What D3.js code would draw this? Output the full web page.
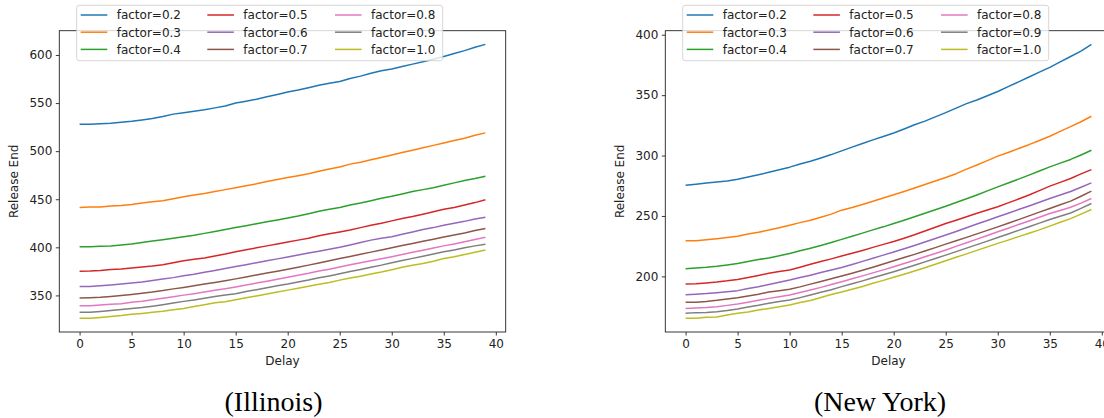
<!DOCTYPE html>
<html>
<head>
<meta charset="utf-8">
<script src="https://cdn.jsdelivr.net/npm/d3@7"></script>
<style>
  body { margin: 0; background: #fff; }
  svg { display: block; }
</style>
</head>
<body>
<div id="chart"></div>
<script>
// delay values on the x axis
const delays = d3.range(0, 40);
const factors = ['0.2', '0.3', '0.4', '0.5', '0.6', '0.7', '0.8', '0.9', '1.0'];
const colors = ['#1f77b4', '#ff7f0e', '#2ca02c', '#d62728', '#9467bd', '#8c564b', '#e377c2', '#7f7f7f', '#bcbd22'];
const xTicks = [0, 5, 10, 15, 20, 25, 30, 35, 40];
const yTicksIllinois = [350, 400, 450, 500, 550, 600];
const yTicksNewYork = [200, 250, 300, 350, 400];

// Illinois, one array per factor
const illinois02 = [528,528,528.5,529,530,531,532.5,534,536,538.5, 540,541.5,543,545,547,550,552,554,556.5,559, 561.5,563.5,566,568.5,570.5,572.5,575.5,578,581,583.5, 585.5,588,590.5,593,595.5,598.5,601.5,604.5,608,611];
const illinois03 = [441.5,442,442,443,443.5,444.5,446,447.5,448.5,450.5, 452.5,454.5,456,458,460,462,464,466,468.5,470.5, 472.5,474.5,476.5,479,481.5,483.5,486.5,488.5,491,493.5, 496,498.5,501,503.5,506,508.5,511,513.5,516.5,519];
const illinois04 = [400.5,400.5,401,401.5,402.5,403.5,405,406.5,408,409.5, 411,412.5,414.5,416.5,418.5,420.5,422.5,424.5,426.5,428.5, 430.5,432.5,435,437.5,439.5,441.5,444,446,448.5,451, 453,455.5,458,460,462,464.5,467,469.5,471.5,474];
const illinois05 = [375.2,375.3,376,377,377.5,378.5,379.5,380.5,382,384, 386,387.5,389,391,393,395.5,397.5,399.5,401.5,403.5, 405.5,407.5,409.5,412,414,416,418,420.5,423,425, 427.5,430,432,434.5,437,439.5,441.5,444,446.5,449.5];
const illinois06 = [359.3,359.3,360,360.8,361.8,362.8,364,365.5,367,368.5, 370.5,372,374,376,378,380,382,384,386,388, 390,392,394,396,398,400,402.5,405,407.5,409.5, 411,413.5,416,418.5,420.5,423,425,427,429.5,431.2];
const illinois07 = [347.2,347.5,348,348.8,349.8,351,352.3,353.5,355,356.8, 358.3,360,361.8,363.5,365.3,367.2,369.2,371.3,373.2,375.2, 377.2,379.3,381.5,383.8,386,388.3,390.5,392.8,395,397.3, 399.5,401.8,404,406.3,408.5,410.7,412.8,415,417.5,419.5];
const illinois08 = [339.3,339.3,340,340.8,341.3,343,344,345.5,347,348.5, 350.3,351.8,353.5,355.3,357,358.8,360.8,362.8,364.8,366.8, 368.8,371,373,375.3,377.3,379.5,381.8,384,386,388.2, 390.3,392.5,394.8,397,399.3,401.5,403.5,405.8,408.2,410.5];
const illinois09 = [332.4,332.5,333.3,334.2,335.3,336.5,337.5,338.8,340.3,342, 343.8,345.3,347,348.8,350.5,351.8,354,356,358,360, 361.8,364,366,368.3,370.3,372.5,374.8,377,379.3,381.5, 384,386.3,388.5,390.8,393,395.3,397.3,399.5,401.5,403.2];
const illinois10 = [326.2,326.2,327,328,329,330.3,331.3,332.5,333.5,335, 336.5,338.5,340.3,342.3,343.5,345.5,347.5,349.5,351.5,353.5, 355.5,357.5,359.5,361.5,363.5,365.9,368,370,372.3,374.3, 376.6,379.3,381.3,383.3,385.5,388.4,390.3,392.5,394.8,397.3];

// New York, one array per factor
const newYork02 = [275.5,276.3,277.2,278.1,279,280.4,282.2,284.1,286.1,288.2, 290.4,293,295.3,298,300.8,303.9,307,310,313,315.8, 318.7,322,325.5,328.5,332,335.5,339.3,343,346,349.5, 353,357,361,365,369,373,377.5,382,386.5,392];
const newYork03 = [229.5,229.5,230.3,231.2,232.2,233.3,235,236.5,238.3,240.3, 242.4,244.5,246.5,249,251.5,254.8,257,259.5,262.2,264.8, 267.5,270.3,273.2,276,279,281.8,285,288.8,292.2,295.8, 299.5,302.5,305.8,309,312.5,316,320,324,328,332.5];
const newYork04 = [206.3,207,207.5,208.3,209.5,210.7,212.3,214,215.3,217, 219,221.2,223.3,225.5,228,230.6,233.2,235.8,238.5,241, 243.8,246.5,249.3,252.2,255.2,258.1,261.2,264.2,267.4,270.8, 274.1,277.3,280.5,283.8,287.2,290.6,293.7,296.8,300.5,304.4];
const newYork05 = [193.7,193.8,194.5,195.3,196.3,197.5,199,200.8,202.5,204, 205.2,207.5,210,212.3,214.5,216.8,219.2,221.5,224,226.5, 228.9,231.6,234.5,237.5,240.6,243.8,246.5,249.3,252.3,255, 257.6,260.8,264,267.3,271,274.7,277.8,281,284.8,288.4];
const newYork06 = [184.8,185.3,185.8,186.5,187.3,188.2,190,191.5,193.3,195.2, 197,199,201,203.2,205.3,207.4,209.8,212.4,215,217.6, 220.1,222.8,225.6,228.4,231.3,234.2,237.2,240.3,243.3,246.3, 249.3,252.3,255.3,258.3,261.3,264.5,267.3,270.3,273.8,277.4];
const newYork07 = [178.5,178.6,179.3,180.2,181.3,182.4,183.8,185.3,187,188.2, 189.3,191.3,193.6,195.8,198,200.3,202.6,205,207.6,210.3, 212.9,215.6,218.2,221,223.8,226.7,229.5,232.3,235.2,238.1, 241,244,247,250.1,253.2,256.2,259.3,262.3,266.3,270.5];
const newYork08 = [173.5,173.8,174.2,174.9,176,177.1,178.6,180.2,181.8,183.2, 184.6,186.6,188.7,190.9,193.2,195.6,198,200.4,202.9,205.4, 208,210.7,213.4,216.2,219,221.8,224.8,227.8,230.8,233.8, 236.9,239.9,242.9,245.9,248.9,252,254.6,257.2,260.6,264.5];
const newYork09 = [169.4,170,170.2,170.8,171.8,173,174.6,176.1,177.8,179.2, 180.4,182.4,184.6,186.8,189,191.5,193.9,196.3,198.8,201.3, 203.9,206.5,209.2,212,214.8,217.6,220.5,223.4,226.3,229.2, 232.2,235.1,238.1,241.1,244.1,247.1,249.8,252.5,256.3,260.3];
const newYork10 = [165.3,165.3,166.2,166.3,168,169.4,170.6,172.2,173.5,174.8, 176.3,178.3,180,182.5,185,187,189.3,191.6,194.3,196.7, 199.2,201.8,204.5,207.1,210,212.9,215.8,218.6,221.5,224.4, 227.3,230,232.9,235.7,238.5,241.6,244.8,247.8,251.5,255.4];

const illinoisSeries = [illinois02, illinois03, illinois04, illinois05, illinois06, illinois07, illinois08, illinois09, illinois10];
const newYorkSeries = [newYork02, newYork03, newYork04, newYork05, newYork06, newYork07, newYork08, newYork09, newYork10];

const W = 1104, H = 418;
const svg = d3.select('#chart').append('svg')
    .attr('width', W)
    .attr('height', H);

const font = 'DejaVu Sans, sans-serif';
const fontSize = '12px';

// draws one panel, like a matplotlib subplot
function drawPanel(series, yTicks, left, caption, captionX) {
    const top = 30.7, bottom = 332, width = 446.4;

    // x scale with 5% margins
    const x = d3.scaleLinear()
        .domain([-1.95, 40.95])
        .range([left, left + width]);

    // y scale from data extent plus 5%
    const all = series.flat();
    const lo = d3.min(all), hi = d3.max(all);
    const pad = (hi - lo) * 0.05;
    const y = d3.scaleLinear()
        .domain([lo - pad, hi + pad])
        .range([bottom, top]);

    const g = svg.append('g');

    // Add X axis
    const xAxis = g.append('g')
        .attr('transform', `translate(0,${bottom})`)
        .call(d3.axisBottom(x).tickValues(xTicks).tickSize(3.5).tickPadding(3.5).tickFormat(d3.format('d')));
    // Add Y axis
    const yAxis = g.append('g')
        .attr('transform', `translate(${left},0)`)
        .call(d3.axisLeft(y).tickValues(yTicks).tickSize(3.5).tickPadding(3.5).tickFormat(d3.format('d')));
    [xAxis, yAxis].forEach(a => {
        a.select('.domain').remove();
        a.selectAll('line').attr('stroke', '#222').attr('stroke-width', 0.9);
        a.selectAll('text').attr('fill', '#222').style('font-family', font).style('font-size', fontSize);
    });

    // Add the lines
    const line = d3.line()
        .x((d, i) => x(delays[i]))
        .y(d => y(d));
    series.forEach((s, i) => {
        g.append('path')
            .datum(s)
            .attr('fill', 'none')
            .attr('stroke', colors[i])
            .attr('stroke-width', 1.5)
            .attr('stroke-linejoin', 'round')
            .attr('d', line);
    });

    // frame
    g.append('rect')
        .attr('x', left).attr('y', top)
        .attr('width', width).attr('height', bottom - top)
        .attr('fill', 'none')
        .attr('stroke', '#222')
        .attr('stroke-width', 0.9);

    // axis labels
    g.append('text')
        .attr('x', left + width / 2)
        .attr('y', 365)
        .attr('text-anchor', 'middle')
        .attr('fill', '#222')
        .style('font-family', font).style('font-size', fontSize)
        .text('Delay');
    g.append('text')
        .attr('transform', `translate(${left - 41.5},${(top + bottom) / 2}) rotate(-90)`)
        .attr('text-anchor', 'middle')
        .attr('fill', '#222')
        .style('font-family', font).style('font-size', fontSize)
        .text('Release End');

    // Legend, 3 columns
    const lx = left + 17.4, ly = 5.3;
    const leg = g.append('g');
    leg.append('rect')
        .attr('x', lx).attr('y', ly)
        .attr('width', 366).attr('height', 55.4)
        .attr('rx', 2.5)
        .attr('fill', 'white').attr('fill-opacity', 0.8)
        .attr('stroke', '#cccccc').attr('stroke-width', 0.8);
    const colX = [0, 126.6, 254.3];
    factors.forEach((f, i) => {
        const col = Math.floor(i / 3), row = i % 3;
        const cx = lx + 4 + colX[col];
        const cy = ly + 9.7 + row * 17.2;
        leg.append('line')
            .attr('x1', cx).attr('x2', cx + 26.6)
            .attr('y1', cy).attr('y2', cy)
            .attr('stroke', colors[i]).attr('stroke-width', 1.5);
        leg.append('text')
            .attr('x', cx + 36)
            .attr('y', cy + 4.3)
            .attr('fill', '#222')
            .style('font-family', font).style('font-size', fontSize)
            .text('factor=' + f);
    });

    // caption under the panel
    svg.append('text')
        .attr('x', captionX)
        .attr('y', 411)
        .attr('text-anchor', 'middle')
        .attr('fill', '#000')
        .style('font-family', 'Liberation Serif, Times New Roman, serif')
        .style('font-size', '28px')
        .text(caption);
}

drawPanel(illinoisSeries, yTicksIllinois, 59.3, '(Illinois)', 273.5);
drawPanel(newYorkSeries, yTicksNewYork, 665.3, '(New York)', 880);
</script>
</body>
</html>
